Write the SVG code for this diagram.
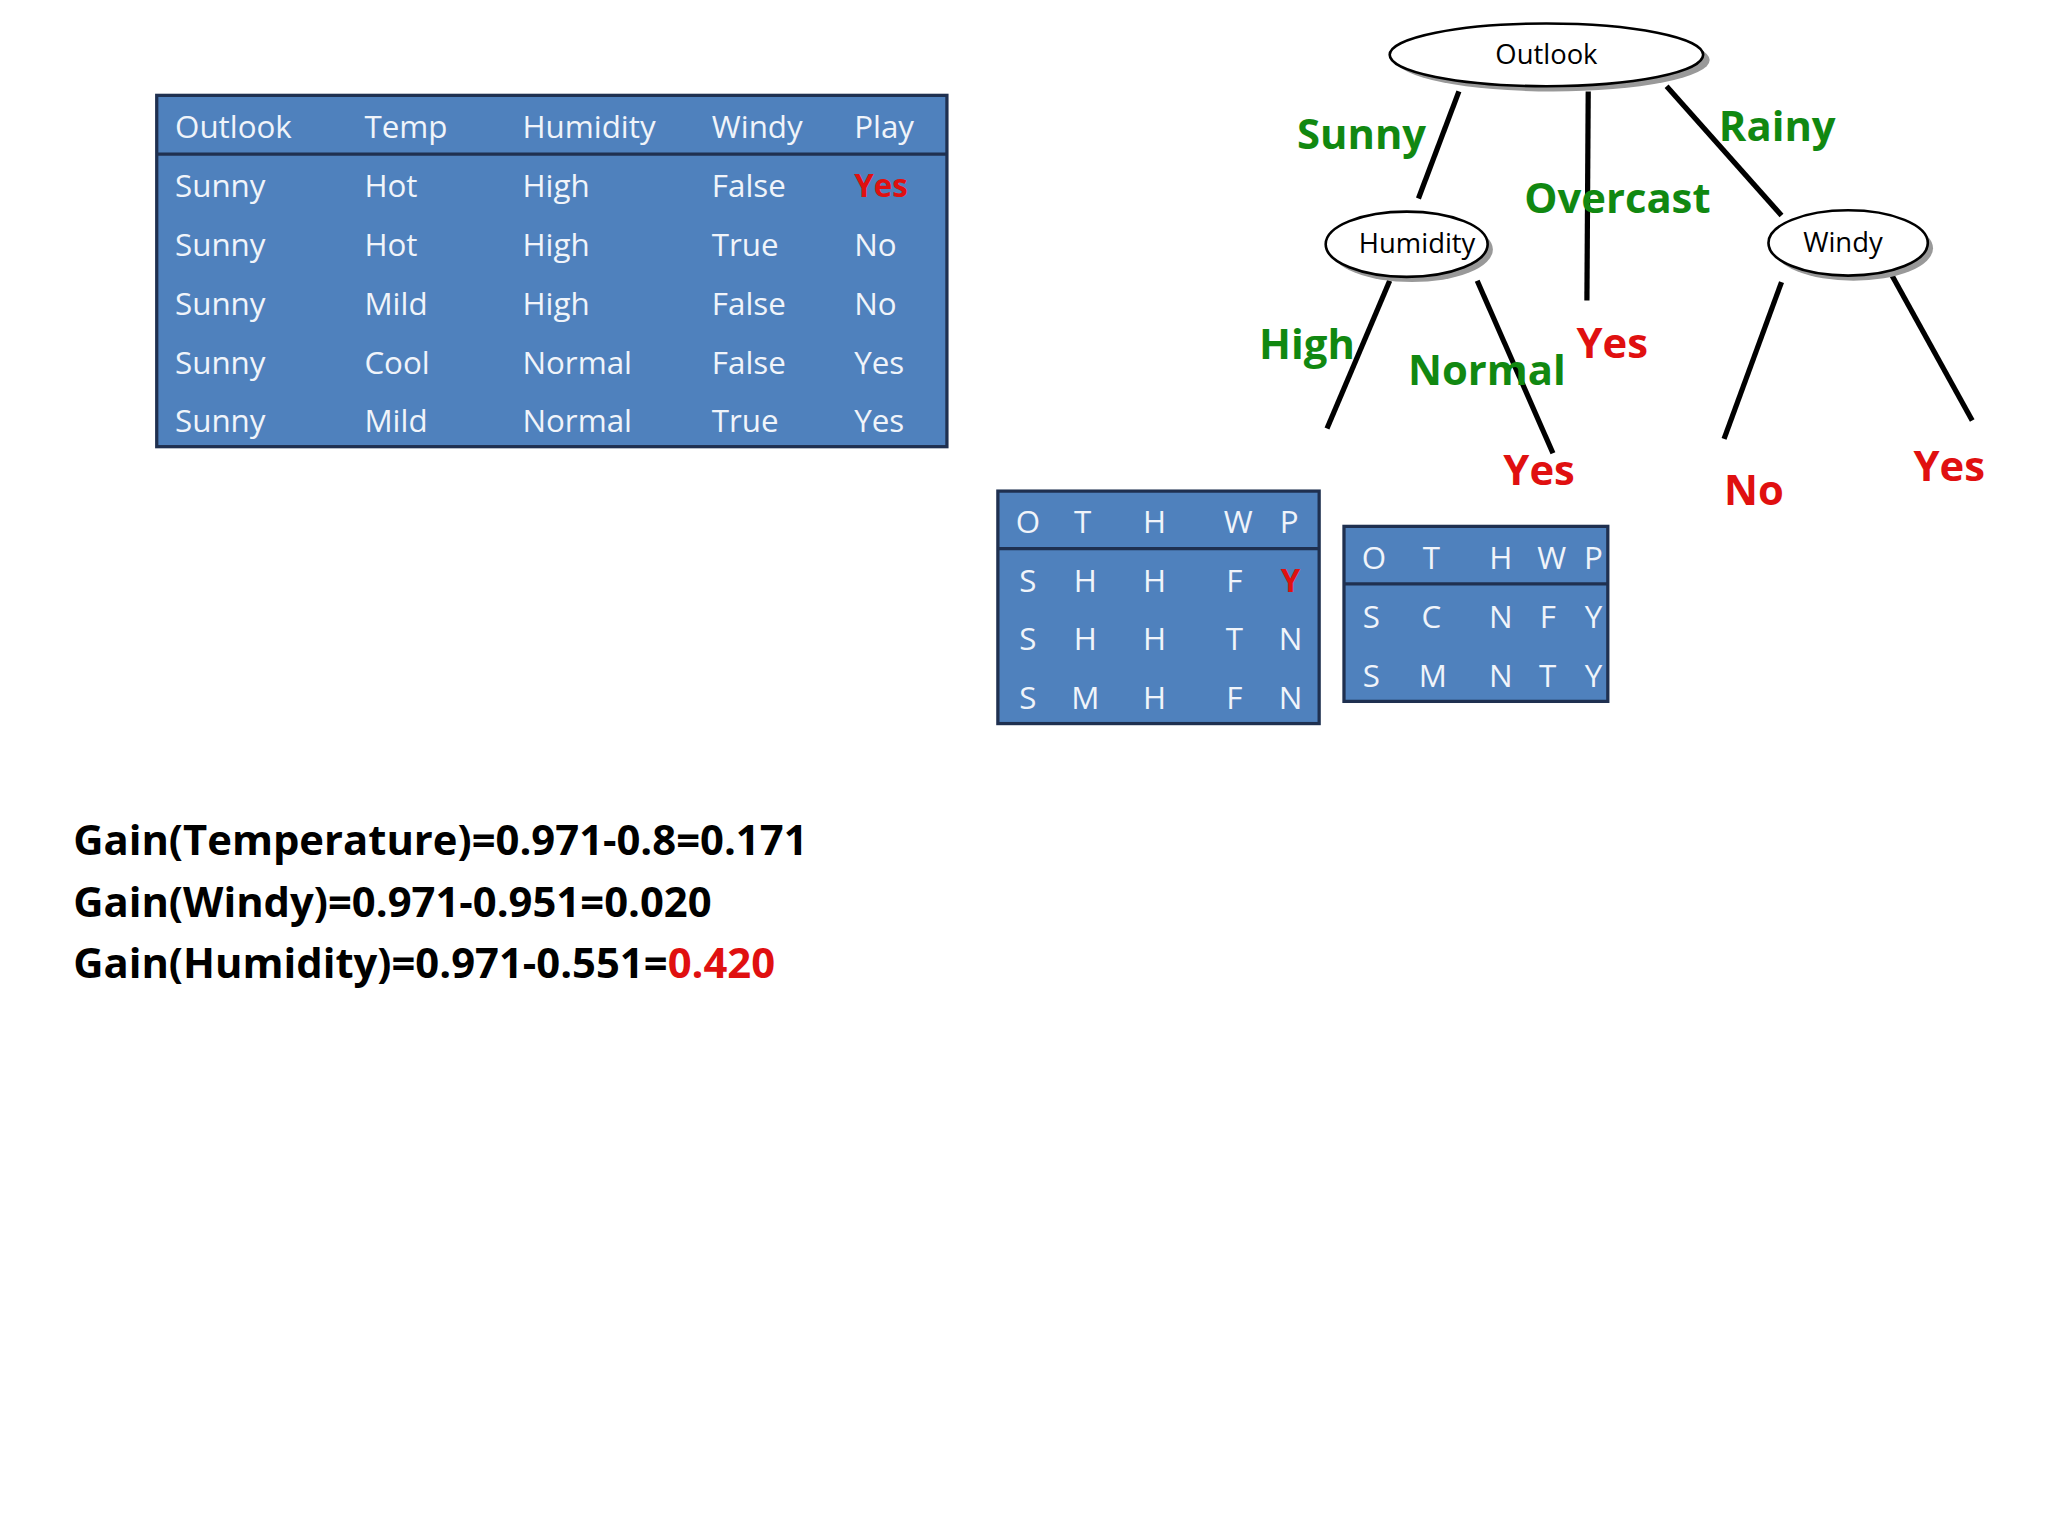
<svg xmlns="http://www.w3.org/2000/svg" width="2048" height="1536" viewBox="0 0 2048 1536">
<style>
.tb{fill:#4F81BD;stroke:#1F3050;stroke-width:2.5}
.hl{stroke:#1F3050;stroke-width:2.5}
.t{font-family:"Open Sans","Liberation Sans",sans-serif;font-size:24px;fill:#F0F4FA}
.ts{font-family:"Open Sans","Liberation Sans",sans-serif;font-size:24px;fill:#F0F4FA;text-anchor:middle}
.g{font-family:"Open Sans","Liberation Sans",sans-serif;font-weight:bold;font-size:32px;fill:#118811}
.r{font-family:"Open Sans","Liberation Sans",sans-serif;font-weight:bold;font-size:32px;fill:#E01010}
.n{font-family:"Open Sans","Liberation Sans",sans-serif;font-size:21px;fill:#000;text-anchor:middle}
.e{fill:#fff;stroke:#000;stroke-width:2}
.sh{fill:#999}
.c line{stroke:#000;stroke-width:4}
.gain{font-family:"Open Sans","Liberation Sans",sans-serif;font-weight:bold;font-size:32px;fill:#000}
</style>
<rect width="2048" height="1536" fill="#fff"/>
<g transform="scale(1.3061)">
<g id="table1">
<rect class="tb" x="120" y="73" width="605" height="269"/>
<line class="hl" x1="120" y1="118" x2="725" y2="118"/>
<g class="t">
<text x="134" y="106">Outlook</text><text x="279" y="106">Temp</text><text x="400" y="106">Humidity</text><text x="545" y="106">Windy</text><text x="654" y="106">Play</text>
<text x="134" y="151">Sunny</text><text x="279" y="151">Hot</text><text x="400" y="151">High</text><text x="545" y="151">False</text>
<text x="134" y="196">Sunny</text><text x="279" y="196">Hot</text><text x="400" y="196">High</text><text x="545" y="196">True</text><text x="654" y="196">No</text>
<text x="134" y="241">Sunny</text><text x="279" y="241">Mild</text><text x="400" y="241">High</text><text x="545" y="241">False</text><text x="654" y="241">No</text>
<text x="134" y="286">Sunny</text><text x="279" y="286">Cool</text><text x="400" y="286">Normal</text><text x="545" y="286">False</text><text x="654" y="286">Yes</text>
<text x="134" y="331">Sunny</text><text x="279" y="331">Mild</text><text x="400" y="331">Normal</text><text x="545" y="331">True</text><text x="654" y="331">Yes</text>
</g>
<text x="654" y="151" class="t" style="fill:#E01010;font-weight:bold">Yes</text>
</g>
<g id="table2">
<rect class="tb" x="764" y="376" width="246" height="178"/>
<line class="hl" x1="764" y1="420" x2="1010" y2="420"/>
<g class="ts">
<text x="787" y="408">O</text><text x="829" y="408">T</text><text x="884" y="408">H</text><text x="948" y="408">W</text><text x="987" y="408">P</text>
<text x="787" y="453">S</text><text x="831" y="453">H</text><text x="884" y="453">H</text><text x="945" y="453">F</text>
<text x="787" y="498">S</text><text x="831" y="498">H</text><text x="884" y="498">H</text><text x="945" y="498">T</text><text x="988" y="498">N</text>
<text x="787" y="543">S</text><text x="831" y="543">M</text><text x="884" y="543">H</text><text x="945" y="543">F</text><text x="988" y="543">N</text>
</g>
<text x="988" y="453" class="ts" style="fill:#E01010;font-weight:bold">Y</text>
</g>
<g id="table3">
<rect class="tb" x="1029" y="403" width="202" height="134"/>
<line class="hl" x1="1029" y1="447" x2="1231" y2="447"/>
<g class="ts">
<text x="1052" y="436">O</text><text x="1096" y="436">T</text><text x="1149" y="436">H</text><text x="1188" y="436">W</text><text x="1220" y="436">P</text>
<text x="1050" y="481">S</text><text x="1096" y="481">C</text><text x="1149" y="481">N</text><text x="1185" y="481">F</text><text x="1220" y="481">Y</text>
<text x="1050" y="526">S</text><text x="1097" y="526">M</text><text x="1149" y="526">N</text><text x="1185" y="526">T</text><text x="1220" y="526">Y</text>
</g>
</g>
<g id="connectors" class="c">
<line x1="1117" y1="70" x2="1086" y2="152"/>
<line x1="1216" y1="70" x2="1215" y2="230"/>
<line x1="1276" y1="66" x2="1364" y2="165"/>
<line x1="1064" y1="215" x2="1016" y2="328"/>
<line x1="1131" y1="215" x2="1189" y2="347"/>
<line x1="1364" y1="216" x2="1320" y2="336"/>
<line x1="1447" y1="208" x2="1510" y2="322"/>
</g>
<g id="outlook"><ellipse class="sh" cx="1189" cy="46" rx="120" ry="24"/><ellipse class="e" cx="1184" cy="42" rx="120" ry="24"/><text class="n" x="1184" y="49">Outlook</text></g>
<g id="humidity"><ellipse class="sh" cx="1081" cy="191" rx="62" ry="25"/><ellipse class="e" cx="1077" cy="187" rx="62" ry="25"/><text class="n" x="1085" y="194">Humidity</text></g>
<g id="windy"><ellipse class="sh" cx="1419" cy="190" rx="61" ry="25"/><ellipse class="e" cx="1415" cy="186" rx="61" ry="25"/><text class="n" x="1411" y="193">Windy</text></g>
<g id="labels">
<text class="g" x="993" y="114">Sunny</text>
<text class="g" x="1167" y="163">Overcast</text>
<text class="g" x="1316" y="108">Rainy</text>
<text class="g" x="964" y="275">High</text>
<text class="g" x="1078" y="295">Normal</text>
<text class="r" x="1207" y="274">Yes</text>
<text class="r" x="1151" y="371">Yes</text>
<text class="r" x="1320" y="387">No</text>
<text class="r" x="1465" y="368">Yes</text>
</g>
<g id="gains">
<text class="gain" x="56" y="655">Gain(Temperature)=0.971-0.8=0.171</text>
<text class="gain" x="56" y="702">Gain(Windy)=0.971-0.951=0.020</text>
<text class="gain" x="56" y="749">Gain(Humidity)=0.971-0.551=<tspan fill="#E01010">0.420</tspan></text>
</g>
</g>
</svg>
